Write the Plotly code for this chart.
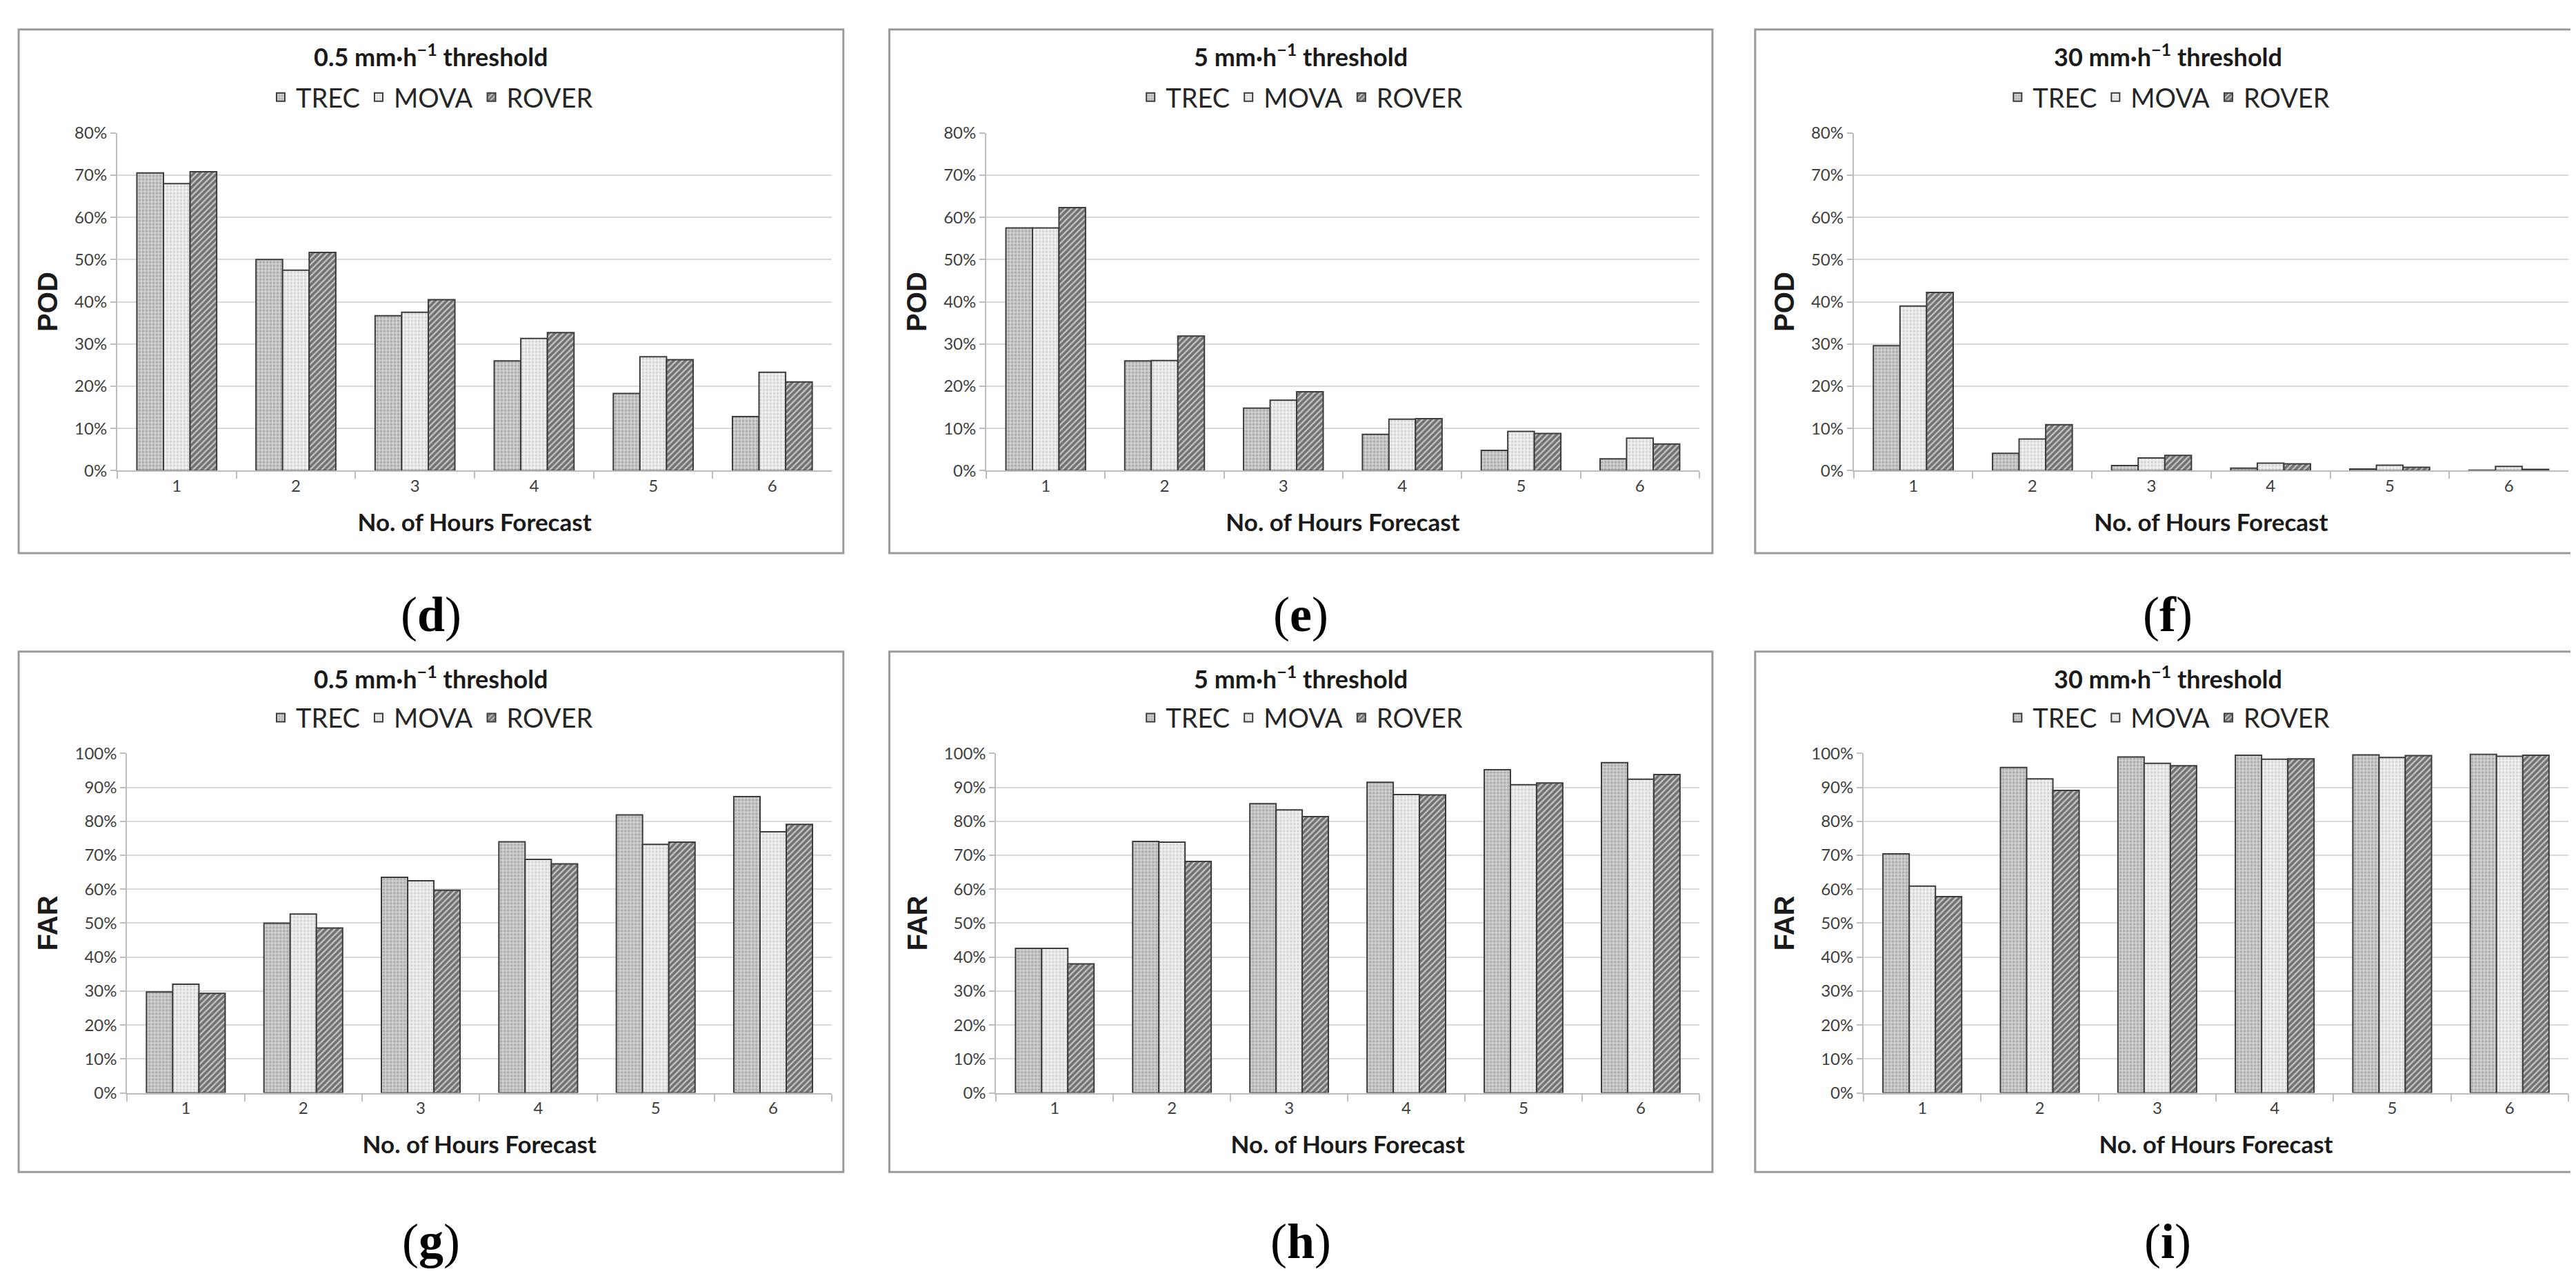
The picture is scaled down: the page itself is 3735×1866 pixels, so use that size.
import plotly.graph_objects as go

# --- data (fractions) ---
hours = ["1", "2", "3", "4", "5", "6"]
methods = ["TREC", "MOVA", "ROVER"]
thresholds = ["0.5", "5", "30"]

pod_05_trec = [0.705, 0.500, 0.367, 0.260, 0.183, 0.128]
pod_05_mova = [0.680, 0.475, 0.375, 0.313, 0.270, 0.233]
pod_05_rover = [0.708, 0.517, 0.405, 0.327, 0.263, 0.210]

pod_5_trec = [0.575, 0.260, 0.148, 0.086, 0.048, 0.028]
pod_5_mova = [0.575, 0.261, 0.167, 0.122, 0.093, 0.077]
pod_5_rover = [0.623, 0.319, 0.187, 0.123, 0.088, 0.063]

pod_30_trec = [0.296, 0.041, 0.012, 0.006, 0.004, 0.001]
pod_30_mova = [0.390, 0.075, 0.030, 0.018, 0.013, 0.010]
pod_30_rover = [0.422, 0.109, 0.036, 0.016, 0.008, 0.003]

far_05_trec = [0.297, 0.500, 0.635, 0.740, 0.819, 0.873]
far_05_mova = [0.320, 0.527, 0.625, 0.688, 0.732, 0.769]
far_05_rover = [0.293, 0.486, 0.597, 0.675, 0.739, 0.791]

far_5_trec = [0.426, 0.741, 0.852, 0.915, 0.952, 0.973]
far_5_mova = [0.426, 0.739, 0.834, 0.879, 0.908, 0.924]
far_5_rover = [0.380, 0.682, 0.814, 0.878, 0.913, 0.938]

far_30_trec = [0.704, 0.959, 0.990, 0.995, 0.996, 0.998]
far_30_mova = [0.609, 0.925, 0.971, 0.983, 0.988, 0.992]
far_30_rover = [0.578, 0.891, 0.964, 0.984, 0.994, 0.995]

panel_letters = ["d", "e", "f", "g", "h", "i"]

panels = [
    ("POD", [pod_05_trec, pod_05_mova, pod_05_rover], 0.8),
    ("POD", [pod_5_trec, pod_5_mova, pod_5_rover], 0.8),
    ("POD", [pod_30_trec, pod_30_mova, pod_30_rover], 0.8),
    ("FAR", [far_05_trec, far_05_mova, far_05_rover], 1.0),
    ("FAR", [far_5_trec, far_5_mova, far_5_rover], 1.0),
    ("FAR", [far_30_trec, far_30_mova, far_30_rover], 1.0),
]

# pattern fills imitating the Excel hatches
styles = {
    "TREC": dict(color="#d4d4d4", fg="#858585", shape=".", size=5, solidity=0.5),
    "MOVA": dict(color="#f2f2f2", fg="#b8b8b8", shape=".", size=5, solidity=0.45),
    "ROVER": dict(color="#c4c4c4", fg="#1e1e1e", shape="/", size=6, solidity=0.6),
}

W, H = 3735, 1866
TH_W = 1568.0  # thumbnail width the positions were measured on
TH_H = 784.0

def px(x):
    return x / TH_W

def py(y):
    return 1 - y / TH_H

# panel geometry (thumbnail px)
box_x = [(8, 510), (538, 1039), (1065, 1567.5)]
plot_x_top = [(68, 503), (597, 1031), (1125, 1560)]
plot_x_bot = [(74, 503), (603, 1031), (1131, 1560)]
rows = [
    dict(box=(8, 332), plot=(72, 281), title=24, legend=50, label=370),
    dict(box=(393, 715), plot=(456, 666), title=409, legend=434, label=758),
]

font_main = "Lato"
fig = go.Figure()
layout = dict(shapes=[], annotations=[])

for i, (metric, series, ymax) in enumerate(panels):
    r, c = divmod(i, 3)
    row = rows[r]
    n = "" if i == 0 else str(i + 1)
    xa, ya = "x" + n, "y" + n
    lg = "legend" + n
    pxr = plot_x_top[c] if r == 0 else plot_x_bot[c]

    for m, vals in zip(methods, series):
        s = styles[m]
        fig.add_trace(go.Bar(
            x=hours, y=vals, name=m, xaxis=xa, yaxis=ya, legend=lg,
            marker=dict(
                color=s["color"],
                line=dict(color="#3c3c3c", width=2),
                pattern=dict(shape=s["shape"], fgcolor=s["fg"], size=s["size"],
                             solidity=s["solidity"]),
            ),
        ))

    layout["xaxis" + n] = dict(
        domain=[px(pxr[0]), px(pxr[1])], anchor=ya,
        type="category", showgrid=False,
        showline=True, linecolor="#bdbdbd", linewidth=2,
        ticks="outside", tickson="boundaries", ticklen=10, tickcolor="#bdbdbd", tickwidth=2,
        tickfont=dict(family=font_main, size=24, color="#404040"),
        title=dict(text="<b>No. of Hours Forecast</b>", standoff=28,
                   font=dict(family=font_main, size=35, color="#1a1a1a")),
    )
    layout["yaxis" + n] = dict(
        domain=[py(row["plot"][1]), py(row["plot"][0])], anchor=xa,
        range=[0, ymax], dtick=0.1, tickformat=".0%",
        showgrid=True, gridcolor="#d9d9d9", gridwidth=2,
        showline=True, linecolor="#bdbdbd", linewidth=2,
        ticks="outside", ticklen=8, tickcolor="#bdbdbd", tickwidth=2,
        zeroline=False,
        tickfont=dict(family=font_main, size=24, color="#404040"),
        title=dict(text="<b>" + metric + "</b>", standoff=12,
                   font=dict(family="Liberation Sans", size=40, color="#1a1a1a")),
    )

    bx = box_x[c]
    layout[lg] = dict(
        x=px((bx[0] + bx[1]) / 2), y=py(row["legend"]),
        xanchor="center", yanchor="middle", orientation="h",
        font=dict(family=font_main, size=38, color="#262626"),
        bgcolor="rgba(0,0,0,0)", itemwidth=34,
    )
    layout["shapes"].append(dict(
        type="rect", xref="paper", yref="paper",
        x0=px(bx[0]), x1=px(bx[1]), y0=py(row["box"][1]), y1=py(row["box"][0]),
        line=dict(color="#9a9a9a", width=3), fillcolor="rgba(0,0,0,0)", layer="below",
    ))
    layout["annotations"].append(dict(
        text="<b>" + thresholds[c] + " mm·h<sup>−1</sup> threshold</b>",
        xref="paper", yref="paper", x=px((bx[0] + bx[1]) / 2), y=py(row["title"]),
        xanchor="center", yanchor="middle", showarrow=False,
        font=dict(family=font_main, size=36, color="#1a1a1a"),
    ))
    layout["annotations"].append(dict(
        text="(<b>" + panel_letters[i] + "</b>)",
        xref="paper", yref="paper", x=px((bx[0] + bx[1]) / 2), y=py(row["label"]),
        xanchor="center", yanchor="middle", showarrow=False,
        font=dict(family="Liberation Serif", size=72, color="#000000"),
    ))

fig.update_layout(
    width=W, height=H,
    margin=dict(l=0, r=0, t=0, b=0),
    paper_bgcolor="white", plot_bgcolor="white",
    barmode="group", bargap=0.33, bargroupgap=0,
    showlegend=True,
    **layout,
)

fig.write_html("out.html")
